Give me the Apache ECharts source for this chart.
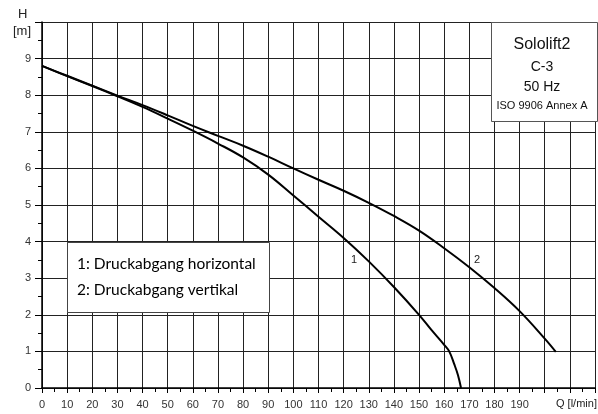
<!DOCTYPE html>
<html><head><meta charset="utf-8">
<script src="https://cdn.jsdelivr.net/npm/echarts@6/dist/echarts.min.js"></script>
<style>html,body{margin:0;padding:0;background:#fff}#c{width:598px;height:414px}</style>
</head><body><div id="c"></div>
<script>
// Pump curve data (Q in l/min, H in m)
const q1 = [0, 10, 20, 30, 40, 50, 60, 70, 80, 90, 100, 110, 120, 130, 140, 150, 155, 160, 162, 164, 165.5, 166.7];
const h1 = [8.80, 8.52, 8.25, 7.97, 7.68, 7.36, 7.03, 6.68, 6.30, 5.83, 5.26, 4.68, 4.10, 3.46, 2.76, 2.00, 1.58, 1.18, 1.0, 0.65, 0.35, 0.0];
const q2 = [0, 10, 20, 30, 40, 50, 60, 70, 80, 90, 100, 110, 120, 130, 140, 150, 160, 170, 180, 190, 200, 204.4];
const h2 = [8.80, 8.53, 8.26, 7.99, 7.73, 7.45, 7.16, 6.89, 6.62, 6.32, 6.00, 5.69, 5.39, 5.06, 4.70, 4.30, 3.82, 3.30, 2.73, 2.10, 1.35, 0.99];
const xTicks = [0,10,20,30,40,50,60,70,80,90,100,110,120,130,140,150,160,170,180,190];
const yTicks = [0,1,2,3,4,5,6,7,8,9];
const legendLines = ['1: Druckabgang horizontal', '2: Druckabgang vertikal'];
const infoLines = ['Sololift2', 'C-3', '50 Hz', 'ISO 9906 Annex A'];

const chart = echarts.init(document.getElementById('c'));
const gridColor = '#222';
const lblFont = {fontFamily: 'Liberation Sans, Arial, sans-serif', fontSize: 11, color: '#333'};
function pairs(xs, ys){ return xs.map((x,i)=>[x, ys[i]]); }

chart.setOption({
  animation: false,
  grid: {left: 42, right: 1, top: 22, bottom: 26},
  xAxis: {
    type: 'value', min: 0, max: 220, interval: 10,
    axisLine: {lineStyle: {color: '#000', width: 1.5}},
    axisTick: {show: true, length: 5, lineStyle: {color: '#000'}},
    minorTick: {show: true, splitNumber: 2, length: 4, lineStyle: {color: '#000'}},
    splitLine: {show: true, lineStyle: {color: gridColor, width: 1}},
    axisLabel: Object.assign({margin: 11, formatter: v => xTicks.indexOf(v) >= 0 ? String(v) : ''}, lblFont)
  },
  yAxis: {
    type: 'value', min: 0, max: 10, interval: 1,
    axisLine: {show: true, lineStyle: {color: '#000', width: 1.5}},
    axisTick: {show: true, length: 7, lineStyle: {color: '#000'}},
    minorTick: {show: true, splitNumber: 2, length: 4, lineStyle: {color: '#000'}},
    splitLine: {show: true, lineStyle: {color: gridColor, width: 1}},
    axisLabel: Object.assign({margin: 11, formatter: v => yTicks.indexOf(v) >= 0 ? String(v) : ''}, lblFont)
  },
  series: [
    {type: 'line', data: pairs(q1, h1), showSymbol: false, smooth: 0.4,
     lineStyle: {color: '#000', width: 2}, z: 5},
    {type: 'line', data: pairs(q2, h2), showSymbol: false, smooth: 0.4,
     lineStyle: {color: '#000', width: 2}, z: 5}
  ],
  graphic: [
    {type: 'text', left: 18, top: 8, style: {text: 'H', font: '13px Liberation Sans, Arial, sans-serif', fill: '#222'}},
    {type: 'text', left: 13, top: 25, style: {text: '[m]', font: '13px Liberation Sans, Arial, sans-serif', fill: '#222'}},
    {type: 'text', left: 556, top: 398, style: {text: 'Q [l/min]', font: '11px Liberation Sans, Arial, sans-serif', fill: '#222'}},
    {type: 'text', x: 354, y: 260, style: {text: '1', font: '11px Liberation Sans, Arial, sans-serif', fill: '#222', align: 'center', verticalAlign: 'middle'}, z: 10},
    {type: 'text', x: 477, y: 260, style: {text: '2', font: '11px Liberation Sans, Arial, sans-serif', fill: '#222', align: 'center', verticalAlign: 'middle'}, z: 10},
    {type: 'rect', shape: {x: 67.5, y: 242.5, width: 202, height: 70}, style: {fill: '#fff', stroke: '#444', lineWidth: 1}, z: 20},
    {type: 'text', x: 77, y: 264, style: {text: legendLines[0], font: '15.5px Lato, sans-serif', fill: '#000', verticalAlign: 'middle'}, z: 21},
    {type: 'text', x: 77, y: 290, style: {text: legendLines[1], font: '15.5px Lato, sans-serif', fill: '#000', verticalAlign: 'middle'}, z: 21},
    {type: 'rect', shape: {x: 491.5, y: 22.5, width: 106, height: 99}, style: {fill: '#fff', stroke: '#555', lineWidth: 1}, z: 20},
    {type: 'text', x: 542, y: 45, style: {text: infoLines[0], font: '16px Liberation Sans, Arial, sans-serif', fill: '#111', align: 'center', verticalAlign: 'middle'}, z: 21},
    {type: 'text', x: 542, y: 67, style: {text: infoLines[1], font: '14px Liberation Sans, Arial, sans-serif', fill: '#111', align: 'center', verticalAlign: 'middle'}, z: 21},
    {type: 'text', x: 542, y: 87, style: {text: infoLines[2], font: '14px Liberation Sans, Arial, sans-serif', fill: '#111', align: 'center', verticalAlign: 'middle'}, z: 21},
    {type: 'text', x: 542, y: 106, style: {text: infoLines[3], font: '11px Liberation Sans, Arial, sans-serif', fill: '#111', align: 'center', verticalAlign: 'middle'}, z: 21}
  ]
});
</script></body></html>
